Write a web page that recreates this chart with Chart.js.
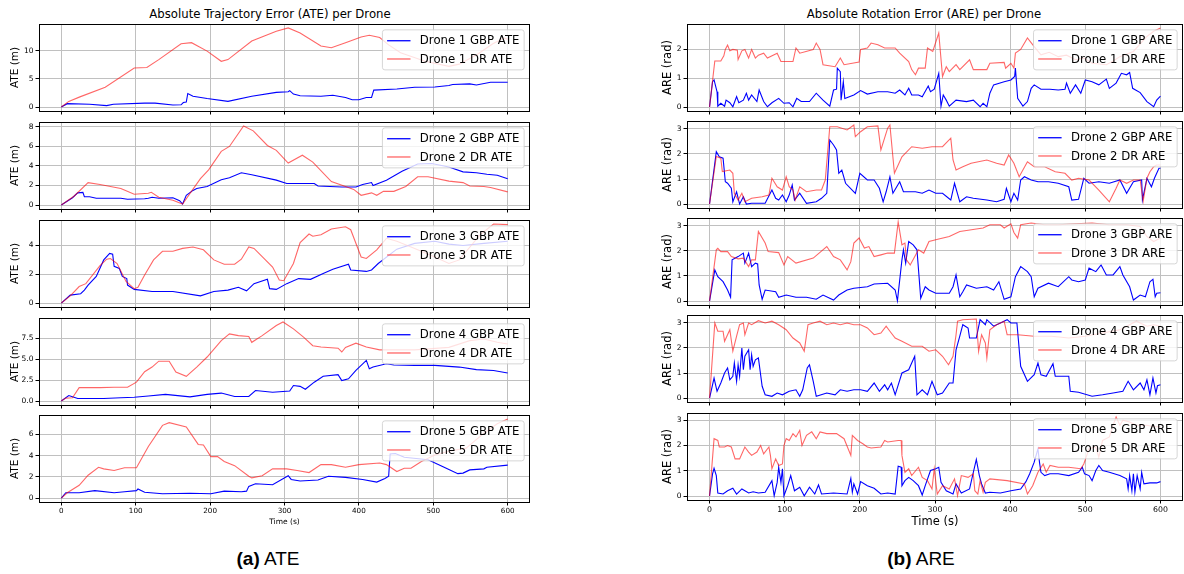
<!DOCTYPE html>
<html>
<head>
<meta charset="utf-8">
<script src="https://cdn.jsdelivr.net/npm/chart.js@4.4.1/dist/chart.umd.min.js"></script>
<style>
  body { margin: 0; background: #fff; }
  #wrap { position: relative; width: 1184px; height: 574px; overflow: hidden; }
  #wrap canvas { position: absolute; }
  .ttl { position: absolute; font: 11.7px "DejaVu Sans"; color: #000; white-space: nowrap; transform: translate(-50%, -50%); }
  .cap { position: absolute; font: 19px "Liberation Sans"; color: #000; white-space: nowrap; transform: translate(-50%, -50%); }
</style>
</head>
<body>
<div id="wrap">
  <div class="ttl" style="left:270px;top:14px">Absolute Trajectory Error (ATE) per Drone</div>
  <div class="ttl" style="left:924px;top:14px">Absolute Rotation Error (ARE) per Drone</div>
  <div class="cap" style="left:268px;top:559px"><b>(a)</b> ATE</div>
  <div class="cap" style="left:921px;top:559px"><b>(b)</b> ARE</div>
</div>
<script>
// tick values
const timeTicks = [0, 100, 200, 300, 400, 500, 600];
const ateTicks = [[0, 5, 10], [0, 2, 4, 6, 8], [0, 2, 4], [0, 2.5, 5, 7.5], [0, 2, 4, 6]];
const areTicks = [[0, 1, 2], [0, 1, 2, 3], [0, 1, 2, 3], [0, 1, 2, 3], [0, 1, 2, 3]];
const drones = ["Drone 1", "Drone 2", "Drone 3", "Drone 4", "Drone 5"];

// [time (s), error]
const ate1Gbp = [[0,0],[8,0.6],[38,0.5],[61,0.25],[70,0.5],[112,0.7],[126,0.7],[150,0.35],[161,0.4],[164,0.8],[168,0.9],[170,2.4],[177,1.9],[196,1.5],[224,1.0],[256,1.9],[289,2.6],[305,2.7],[307,2.9],[312,2.3],[321,2.0],[349,1.9],[365,2.1],[382,1.7],[391,1.3],[400,1.3],[410,1.7],[417,1.7],[420,3.0],[451,3.2],[475,3.5],[502,3.55],[521,3.8],[526,4.0],[549,4.1],[558,3.9],[577,4.4],[600,4.4]];
const ate1Dr = [[0,0],[10,1.0],[25,1.8],[59,3.5],[98,6.9],[115,7.0],[131,8.4],[161,11.2],[175,11.4],[196,9.9],[215,8.1],[224,8.4],[256,11.7],[289,13.4],[305,14.0],[321,13.1],[349,10.8],[363,10.5],[382,11.4],[403,12.4],[414,12.7],[428,12.3],[440,11.0],[456,9.6],[489,8.1],[521,7.2],[535,7.6],[560,9.4],[580,11.2],[595,12.2],[600,12.0]];
const ate2Gbp = [[0,0],[15,0.75],[22,1.25],[29,1.3],[31,0.85],[38,0.85],[47,0.7],[80,0.7],[89,0.6],[112,0.65],[117,0.7],[122,0.8],[131,0.7],[150,0.75],[159,0.45],[163,0.1],[168,1.0],[177,1.5],[182,1.7],[196,1.9],[215,2.6],[226,2.8],[242,3.3],[256,3.1],[289,2.55],[303,2.2],[327,2.2],[340,2.2],[345,1.95],[377,1.85],[396,1.85],[405,2.1],[417,2.3],[419,2.0],[437,2.55],[458,3.45],[479,4.2],[498,4.25],[521,3.9],[540,3.4],[558,3.3],[572,3.15],[586,3.05],[600,2.7]];
const ate2Dr = [[0,0],[17,0.9],[36,2.3],[52,2.1],[80,1.7],[98,1.1],[117,1.2],[121,1.3],[131,0.8],[150,0.5],[163,0.1],[173,1.2],[187,2.7],[198,3.6],[215,5.5],[226,6.0],[245,8.1],[258,7.6],[277,6.1],[289,5.6],[305,4.3],[324,5.1],[338,4.4],[363,2.4],[382,1.9],[393,1.6],[403,1.0],[417,1.25],[424,1.0],[433,1.4],[447,1.4],[463,1.9],[479,2.9],[493,2.9],[521,2.45],[540,2.3],[549,1.95],[568,1.9],[577,1.8],[600,1.35]];
const ate3Gbp = [[0,0],[12,0.55],[26,0.65],[31,0.9],[36,1.25],[47,1.85],[57,3.0],[65,3.45],[69,3.4],[71,2.55],[78,2.4],[82,1.85],[88,1.7],[89,1.25],[98,0.95],[122,0.8],[150,0.8],[187,0.5],[205,0.8],[224,0.9],[238,1.1],[249,0.85],[259,1.35],[277,1.65],[280,1.0],[289,0.95],[303,1.35],[319,1.7],[335,1.65],[352,2.05],[365,2.35],[386,2.7],[389,2.3],[410,2.2],[417,2.3],[426,2.75],[451,3.75],[475,4.15],[502,4.3],[521,4.1],[540,4.0],[568,4.15],[600,4.3]];
const ate3Dr = [[0,0],[12,0.5],[24,1.15],[33,1.35],[52,2.6],[61,3.05],[66,3.1],[75,2.75],[87,1.5],[98,1.0],[103,1.1],[112,1.95],[124,3.0],[136,3.6],[150,3.6],[163,3.8],[177,3.9],[191,3.7],[205,3.0],[219,2.7],[233,2.7],[242,3.05],[252,3.9],[259,3.8],[284,2.5],[293,1.6],[299,1.55],[312,2.75],[321,4.2],[333,4.8],[338,4.65],[349,4.75],[363,5.15],[382,5.3],[389,5.1],[403,3.2],[410,3.1],[424,3.7],[437,4.5],[451,4.3],[475,3.8],[502,3.2],[521,2.75],[535,3.0],[563,4.75],[581,5.5],[600,5.45]];
const ate4Gbp = [[0,0],[10,0.65],[17,0.45],[22,0.3],[57,0.3],[80,0.4],[98,0.45],[117,0.6],[140,0.8],[173,0.5],[196,0.8],[215,0.95],[233,0.55],[252,0.55],[261,1.25],[284,1.05],[307,1.2],[312,1.85],[321,1.75],[328,1.4],[340,2.25],[352,2.95],[372,3.15],[377,2.45],[386,2.65],[396,3.65],[410,4.85],[414,3.85],[419,4.05],[437,4.45],[447,4.3],[475,4.25],[502,4.25],[535,4.05],[558,3.75],[581,3.65],[600,3.35]];
const ate4Dr = [[0,0],[6,0.35],[15,0.4],[24,1.6],[52,1.6],[71,1.65],[89,1.65],[101,2.25],[112,3.5],[122,4.05],[131,4.75],[145,4.75],[154,3.45],[168,2.95],[182,4.05],[196,5.25],[215,7.2],[226,8.0],[238,7.8],[252,7.7],[256,7.0],[270,7.8],[289,9.0],[298,9.43],[312,8.6],[326,7.6],[338,6.6],[349,6.45],[372,6.3],[377,5.85],[382,6.4],[396,6.9],[410,6.45],[428,6.1],[475,6.1],[521,6.4],[549,7.2],[568,7.4],[586,7.0],[600,6.8]];
const ate5Gbp = [[0,0],[6,0.5],[24,0.5],[45,0.7],[71,0.5],[85,0.6],[101,0.7],[103,0.85],[112,0.55],[136,0.4],[173,0.45],[201,0.4],[219,0.65],[242,0.6],[249,0.65],[252,1.1],[261,1.35],[284,1.25],[305,2.1],[309,1.75],[321,1.6],[345,1.7],[359,2.05],[382,1.95],[405,1.75],[424,1.5],[435,1.85],[440,2.05],[442,4.15],[449,4.2],[461,3.85],[493,3.6],[516,2.85],[533,2.3],[540,2.35],[549,2.65],[568,2.75],[572,2.9],[600,3.1]];
const ate5Dr = [[0,0],[8,0.5],[24,1.2],[36,2.15],[50,2.9],[57,2.75],[71,2.6],[85,2.85],[101,2.85],[117,4.85],[136,6.85],[145,7.1],[168,6.7],[184,5.05],[191,5.0],[201,3.9],[210,3.9],[219,3.45],[233,3.05],[252,2.05],[256,1.9],[270,2.1],[284,2.75],[303,2.75],[317,2.6],[333,2.4],[349,3.15],[363,3.15],[382,2.9],[400,3.15],[428,3.3],[437,3.15],[451,2.5],[461,2.8],[470,2.8],[484,3.45],[502,4.05],[521,4.4],[544,4.7],[568,6.1],[586,7.0],[600,7.45]];

const are1Gbp = [[0,0],[4,0.88],[6,0.94],[10,0.53],[11,0.03],[15,0.13],[20,0.03],[22,0.24],[27,0.15],[31,0.01],[36,0.36],[39,0.15],[45,0.24],[49,0.48],[52,0.24],[56,0.42],[63,0.19],[66,0.59],[72,0.19],[77,0.01],[83,0.15],[92,0.3],[99,0.13],[106,0.15],[111,0.01],[116,0.3],[122,0.19],[133,0.19],[142,0.48],[151,0.24],[160,0.03],[165,0.59],[169,0.62],[170,1.35],[174,1.23],[175,0.24],[178,0.88],[180,0.3],[192,0.42],[201,0.57],[210,0.45],[224,0.53],[237,0.53],[247,0.48],[253,0.59],[260,0.42],[265,0.65],[269,0.42],[278,0.42],[283,0.36],[291,0.73],[294,0.53],[299,0.62],[305,1.17],[308,0.03],[311,0.42],[315,0.24],[319,0.03],[328,0.24],[342,0.19],[351,0.24],[360,0.01],[364,0.13],[369,0.01],[373,0.48],[378,0.77],[392,0.88],[401,0.94],[406,1.06],[407,1.35],[410,0.3],[417,0.03],[423,0.19],[428,0.65],[432,0.77],[441,0.62],[453,0.62],[464,0.59],[473,0.62],[475,0.83],[480,0.48],[487,0.77],[494,0.48],[500,0.94],[509,0.88],[518,0.77],[528,0.97],[532,0.65],[541,0.83],[548,1.17],[555,1.12],[559,1.2],[563,0.65],[573,0.5],[582,0.19],[591,0.01],[595,0.24],[600,0.38]];
const are1Dr = [[0,0],[7,1.6],[15,1.6],[19,1.78],[21,2.0],[24,2.15],[27,1.95],[31,2.0],[37,1.97],[38,1.65],[43,1.95],[47,2.0],[52,1.7],[56,2.0],[61,1.7],[65,1.8],[72,1.87],[77,1.7],[90,1.87],[95,1.58],[111,1.58],[115,2.05],[120,1.87],[138,2.0],[142,2.22],[147,2.0],[151,1.47],[167,1.4],[174,1.7],[179,1.47],[199,1.56],[201,2.0],[210,2.05],[215,2.22],[224,2.16],[233,2.05],[247,2.05],[253,1.87],[265,1.58],[269,1.3],[274,1.12],[278,1.35],[287,1.35],[290,2.05],[297,1.93],[305,2.57],[310,1.06],[315,1.4],[319,1.23],[328,1.47],[333,1.3],[346,1.64],[351,1.3],[369,1.3],[373,1.52],[392,1.55],[394,1.35],[401,1.52],[405,1.35],[407,1.87],[414,2.0],[423,2.4],[432,2.1],[441,1.81],[452,1.9],[464,1.75],[475,1.8],[487,1.64],[498,1.7],[509,1.52],[528,1.47],[537,1.6],[546,1.75],[564,1.93],[582,2.45],[591,2.63],[600,2.745]];
const are2Gbp = [[0,0],[9,2.09],[13,1.89],[18,1.83],[21,0.89],[24,0.83],[29,0.63],[31,0.09],[36,0.49],[40,0],[45,0.29],[49,0],[56,0.03],[74,0.03],[83,0.56],[88,0.23],[92,0.16],[97,0.36],[102,0.09],[106,0.36],[110,0.76],[113,0.16],[120,0.43],[129,0.03],[142,0.09],[149,0.23],[156,0.43],[160,2.56],[165,2.36],[169,2.16],[172,1.23],[176,1.36],[181,0.83],[194,0.43],[200,1.23],[210,0.96],[219,0.96],[226,0.63],[231,0.09],[235,0.49],[240,1.09],[244,0.43],[253,0.89],[258,0.49],[274,0.49],[283,0.43],[292,0.56],[301,0.43],[310,0.43],[321,0.16],[326,0.83],[333,0.09],[342,0.29],[351,0.23],[369,0.16],[382,0.09],[392,0.19],[395,0.63],[401,0.09],[405,0.43],[410,0.16],[414,0.96],[419,1.09],[428,0.96],[437,0.89],[451,0.89],[464,0.83],[478,0.69],[482,0.16],[491,0.19],[498,1.03],[505,0.83],[518,0.89],[532,0.83],[546,0.96],[555,0.43],[564,0.89],[575,0.96],[576,0.16],[582,1.03],[588,0.69],[592,1.03],[598,1.43],[600,1.43]];
const are2Dr = [[0,0],[9,1.9],[15,1.83],[17,1.3],[27,1.36],[31,1.23],[33,0.43],[38,0.16],[43,0.43],[47,0.09],[56,0.23],[70,0.29],[79,0.36],[83,1.03],[90,0.69],[97,0.56],[102,1.09],[106,0.69],[111,0.56],[114,0.16],[120,0.69],[129,0.49],[142,0.56],[149,0.56],[154,0.96],[160,3.09],[170,3.09],[183,2.96],[192,3.16],[194,2.69],[201,2.89],[210,3.09],[224,3.12],[228,2.16],[237,3.03],[240,3.16],[246,1.23],[256,1.89],[269,2.29],[283,2.23],[296,2.29],[310,2.29],[321,2.63],[324,1.76],[328,1.36],[337,1.49],[348,1.63],[369,1.76],[382,1.63],[392,1.56],[398,1.96],[405,1.63],[412,1.09],[423,1.69],[432,1.49],[446,1.49],[460,1.29],[473,1.23],[482,0.96],[491,1.03],[505,0.96],[518,0.56],[532,0.09],[541,0.63],[546,0.96],[555,0.83],[564,0.96],[573,0.96],[577,0.12],[582,1.03],[586,1.29],[591,1.49],[595,1.56],[600,1.56]];
const are3Gbp = [[0,0],[7,1.24],[11,0.97],[18,0.77],[24,0.44],[28,0.15],[30,1.64],[38,1.77],[45,1.91],[47,1.51],[52,1.91],[56,1.37],[61,1.51],[64,1.48],[66,0.64],[70,0.07],[74,0.44],[88,0.37],[92,0.15],[102,0.24],[115,0.15],[129,0.15],[142,0.07],[151,0.24],[165,0.04],[172,0.24],[183,0.44],[192,0.51],[210,0.57],[219,0.68],[237,0.71],[247,0.44],[250,0.01],[256,1.64],[258,2.04],[261,1.51],[265,2.37],[271,2.24],[276,2.04],[281,0.11],[287,0.57],[292,0.44],[301,0.31],[319,0.31],[324,0.57],[328,1.04],[333,0.17],[337,0.37],[342,0.64],[355,0.51],[369,0.57],[378,0.44],[385,0.77],[392,0.07],[401,0.17],[407,0.97],[414,1.37],[423,1.17],[428,0.97],[432,0.17],[437,0.51],[451,0.71],[464,0.57],[478,0.97],[482,0.84],[491,0.77],[500,0.84],[505,1.31],[514,1.17],[521,1.44],[528,1.04],[537,1.04],[546,1.37],[550,1.04],[559,0.57],[564,0.04],[573,0.24],[580,0.17],[586,0.77],[590,0.87],[593,0.17],[595,0.31],[600,0.33]];
const are3Dr = [[0,0],[9,2.04],[11,2.1],[15,1.97],[24,1.97],[29,1.77],[38,1.68],[45,1.71],[52,1.37],[56,1.64],[61,1.64],[65,2.77],[74,2.31],[78,1.97],[92,1.93],[99,1.44],[104,1.77],[115,1.51],[138,1.71],[156,2.17],[165,1.77],[174,1.64],[183,1.24],[188,1.57],[192,2.31],[199,2.51],[206,2.11],[212,2.17],[219,1.77],[228,1.84],[237,1.91],[246,1.91],[251,3.15],[256,2.24],[260,2.31],[262,1.64],[267,1.44],[278,2.04],[285,1.91],[292,2.37],[305,2.47],[319,2.57],[333,2.77],[342,2.81],[355,2.87],[364,2.91],[373,3.04],[387,3.04],[392,2.91],[401,3.08],[405,2.73],[410,2.51],[414,3.04],[428,3.11],[446,3.04],[464,3.04],[487,3.08],[509,3.11],[532,3.04],[555,3.04],[573,2.97],[582,2.57],[591,2.37],[600,2.51]];
const are4Gbp = [[0,0],[6,0.8],[10,0.27],[15,0.6],[20,1.0],[24,1.2],[27,0.73],[31,0.87],[33,1.4],[36,0.67],[38,1.33],[40,0.87],[43,2.0],[45,1.13],[47,1.67],[52,1.93],[54,1.13],[56,1.73],[58,1.27],[61,1.53],[65,1.6],[70,0.47],[74,0.13],[83,0.07],[90,0.2],[97,0.13],[106,0.27],[115,0.33],[120,0.07],[124,0.33],[130,1.2],[133,1.33],[138,0.67],[142,0.07],[156,0.2],[167,0.13],[174,0.33],[183,0.27],[192,0.33],[201,0.33],[210,0.27],[219,0.6],[226,0.27],[233,0.53],[237,0.33],[242,0.6],[247,0.13],[256,1.0],[265,1.13],[269,1.4],[273,1.67],[276,0.13],[283,0.33],[290,0.13],[296,0.67],[303,0.13],[310,0.2],[319,0.6],[324,0.6],[328,1.93],[333,2.47],[337,2.93],[344,2.8],[346,2.4],[355,2.4],[360,3.13],[367,2.93],[369,3.13],[378,2.87],[387,3.0],[396,3.13],[401,3.0],[409,3.0],[414,1.27],[423,0.67],[432,0.93],[437,1.4],[441,0.93],[448,0.87],[457,1.37],[460,0.87],[469,0.87],[478,0.87],[480,0.27],[491,0.23],[509,0.07],[523,0.13],[537,0.2],[550,0.27],[557,0.67],[564,0.33],[573,0.6],[578,0.33],[582,0.73],[586,0.13],[590,0.8],[594,0.2],[596,0.49],[600,0.53]];
const are4Dr = [[0,0],[7,3.0],[11,2.67],[18,2.67],[20,2.27],[27,2.73],[31,1.87],[36,2.47],[40,2.93],[45,3.0],[47,2.53],[52,3.0],[56,2.93],[65,3.09],[74,3.0],[83,3.07],[92,2.93],[102,2.73],[111,2.4],[120,2.2],[126,1.87],[131,2.93],[138,3.0],[147,3.07],[156,2.93],[165,3.0],[174,2.93],[183,3.0],[192,2.93],[201,2.93],[210,2.8],[219,2.53],[228,2.6],[235,2.87],[240,2.67],[247,2.4],[256,2.27],[269,2.07],[283,2.07],[292,1.87],[301,1.93],[310,1.67],[318,1.33],[324,1.67],[328,2.53],[330,3.07],[337,3.13],[355,3.16],[358,1.87],[362,2.53],[367,2.2],[369,1.6],[373,2.73],[382,2.93],[392,3.07],[396,2.53],[410,2.53],[432,2.47],[455,2.47],[478,2.4],[500,2.47],[523,2.6],[546,2.73],[568,3.07],[582,2.87],[591,2.93],[600,2.87]];
const are5Gbp = [[0,0],[4,0.88],[6,1.1],[9,0.81],[11,0.12],[18,0.08],[24,0.21],[31,0.31],[36,0.08],[43,0.28],[52,0.12],[58,0.17],[65,0.12],[74,0.15],[83,0.61],[86,0.01],[90,0.54],[92,1.14],[95,0.54],[97,1.08],[99,0.01],[104,0.41],[108,0.81],[113,0.21],[120,0.35],[126,0.01],[133,0.35],[140,0.08],[145,0.44],[149,0.08],[165,0.12],[183,0.08],[188,0.7],[190,0.15],[192,0.48],[197,0.08],[201,0.57],[210,0.41],[219,0.31],[228,0.08],[237,0.12],[247,0.08],[251,1.18],[255,1.14],[256,0.41],[260,0.61],[265,0.74],[271,0.61],[278,0.41],[283,0.04],[287,0.41],[294,1.01],[301,1.08],[305,1.14],[308,0.54],[315,0.21],[324,0.08],[328,0.48],[335,0.12],[346,0.28],[351,0.94],[355,1.45],[359,0.81],[362,0.48],[367,0.12],[373,0.15],[387,0.12],[401,0.21],[414,0.28],[421,0.57],[426,0.88],[432,1.34],[437,1.87],[439,1.34],[441,0.94],[446,0.81],[453,0.88],[464,0.88],[478,0.81],[491,0.94],[496,1.14],[499,0.88],[505,0.81],[509,0.61],[514,1.01],[518,1.21],[523,1.01],[532,0.94],[546,0.81],[555,0.68],[557,0.28],[559,0.81],[562,0.21],[564,0.88],[566,0.15],[569,0.81],[573,0.28],[575,0.94],[578,0.48],[586,0.52],[595,0.52],[600,0.57]];
const are5Dr = [[0,0],[6,2.27],[11,2.2],[13,1.94],[20,1.94],[24,2.0],[29,1.94],[34,1.47],[40,1.47],[47,1.94],[52,1.74],[56,1.61],[63,1.74],[68,2.0],[72,1.67],[79,1.94],[81,1.61],[83,1.08],[88,1.47],[92,1.21],[97,1.27],[99,2.0],[102,2.27],[106,2.2],[111,2.47],[115,2.34],[120,2.6],[123,2.0],[129,2.4],[136,2.54],[142,2.27],[147,2.54],[156,2.47],[169,2.47],[179,2.27],[188,1.61],[190,2.4],[197,2.2],[204,2.07],[210,1.94],[215,1.9],[228,1.94],[233,2.2],[237,2.14],[251,2.2],[255,2.2],[256,1.61],[260,0.94],[265,1.08],[269,0.81],[278,1.14],[283,0.74],[290,0.61],[296,0.28],[299,1.08],[303,0.08],[310,0.41],[319,0.28],[326,0.68],[330,0.01],[335,0.81],[344,0.74],[351,0.88],[353,0.21],[357,0.08],[360,0.61],[364,0.15],[367,0.54],[373,0.68],[396,0.61],[419,0.48],[423,0.08],[430,0.41],[437,0.94],[444,1.27],[448,0.94],[453,1.21],[464,1.14],[478,1.14],[494,1.08],[498,1.27],[505,1.87],[514,1.94],[518,1.54],[523,2.2],[532,2.34],[537,2.8],[541,3.13],[546,2.8],[550,3.0],[559,2.93],[568,2.8],[582,2.8],[591,2.74],[600,2.74]];

const ateGbp = [ate1Gbp, ate2Gbp, ate3Gbp, ate4Gbp, ate5Gbp];
const ateDr = [ate1Dr, ate2Dr, ate3Dr, ate4Dr, ate5Dr];
const areGbp = [are1Gbp, are2Gbp, are3Gbp, are4Gbp, are5Gbp];
const areDr = [are1Dr, are2Dr, are3Dr, are4Dr, are5Dr];

const GBP_COLOR = "#0000ff";
const DR_COLOR = "rgba(255,0,0,0.6)";
const LEG_FONT = 11.7;

// frame + in-axes legend (matplotlib style)
const axesDecor = {
  id: "axesDecor",
  afterDraw(chart) {
    const ctx = chart.ctx, a = chart.chartArea;
    ctx.save();
    ctx.strokeStyle = "#000";
    ctx.lineWidth = 1;
    ctx.strokeRect(a.left + 0.5, a.top + 0.5, a.right - a.left - 1, a.bottom - a.top);

    const F = LEG_FONT;
    ctx.font = F + 'px "DejaVu Sans"';
    const sets = chart.data.datasets;
    const tw = Math.max(...sets.map(d => ctx.measureText(d.label).width));
    const textH = 1.06 * F, rowH = textH + 0.5 * F;
    const bw = 0.4 * F + 2 * F + 0.8 * F + tw + 0.4 * F;
    const bh = 0.8 * F + 2 * textH + 0.5 * F;
    const bx = a.right - 0.5 * F - bw, by = a.top + 0.5 * F;
    ctx.beginPath();
    ctx.roundRect(bx, by, bw, bh, 2.5);
    ctx.fillStyle = "rgba(255,255,255,0.8)";
    ctx.fill();
    ctx.strokeStyle = "rgba(204,204,204,0.8)";
    ctx.stroke();
    sets.forEach((d, i) => {
      const cy = by + 0.4 * F + textH / 2 + i * rowH;
      ctx.beginPath();
      ctx.strokeStyle = d.borderColor;
      ctx.lineWidth = 1.3;
      ctx.moveTo(bx + 0.4 * F, cy);
      ctx.lineTo(bx + 2.4 * F, cy);
      ctx.stroke();
      ctx.fillStyle = "#000";
      ctx.textBaseline = "middle";
      ctx.fillText(d.label, bx + 3.2 * F, cy + 0.5);
    });
    ctx.restore();
  }
};

const wrap = document.getElementById("wrap");

function addPanel(p) {
  const padT = 8, padR = 4;
  const xh = p.bottom ? p.xh : 8;
  const cv = document.createElement("canvas");
  cv.width = p.yw + p.w + padR;
  cv.height = padT + p.h + xh;
  cv.style.left = (p.x - p.yw) + "px";
  cv.style.top = (p.y - padT) + "px";
  wrap.appendChild(cv);

  const ymax = Math.max(...p.series.flatMap(s => s.data.map(d => d[1])));
  const decimals = p.ticks.some(v => v % 1 !== 0);
  const gridOpts = { color: "#c0c0c0", lineWidth: 1, tickColor: "#000", tickLength: 3.5, tickWidth: 1 };

  new Chart(cv, {
    type: "line",
    data: {
      datasets: p.series.map(s => ({
        label: s.label,
        data: s.data.map(d => ({ x: d[0], y: d[1] })),
        borderColor: s.color,
        borderWidth: 1.1,
        pointRadius: 0,
        tension: 0,
        order: s.order
      }))
    },
    options: {
      responsive: false,
      animation: false,
      devicePixelRatio: 1,
      layout: { padding: { top: padT, right: padR, left: 0, bottom: 0 } },
      plugins: { legend: { display: false }, tooltip: { enabled: false } },
      scales: {
        x: {
          type: "linear",
          min: -30,
          max: 630,
          afterBuildTicks: s => { s.ticks = timeTicks.map(v => ({ value: v })); },
          afterFit: s => { s.height = xh; },
          grid: gridOpts,
          border: { display: false },
          ticks: { display: p.bottom, autoSkip: false, maxRotation: 0, padding: 1.5, color: "#000",
                   font: { family: "DejaVu Sans", size: p.xtSize } },
          title: { display: p.bottom, text: "Time (s)", color: "#000",
                   font: { family: "DejaVu Sans", size: p.xlSize }, padding: { top: 0, bottom: 0 } }
        },
        y: {
          min: -0.05 * ymax,
          max: 1.05 * ymax,
          afterBuildTicks: s => { s.ticks = p.ticks.map(v => ({ value: v })); },
          afterFit: s => { s.width = p.yw; },
          grid: gridOpts,
          border: { display: false },
          ticks: { autoSkip: false, padding: 2, color: "#000",
                   font: { family: "DejaVu Sans", size: 7.5 },
                   callback: v => decimals ? v.toFixed(1) : String(v) },
          title: { display: true, text: p.ylabel, color: "#000",
                   font: { family: "DejaVu Sans", size: p.ylSize }, padding: { top: p.ylPad, bottom: 0 } }
        }
      }
    },
    plugins: [axesDecor]
  });
}

const leftTops = [24, 122, 220, 318, 415];
const rightTops = [24, 121, 218, 315, 413];

for (let i = 0; i < 5; i++) {
  addPanel({
    x: 39, y: leftTops[i], w: 491, h: 87, yw: 39,
    bottom: i === 4, xh: 25, xtSize: 7.2, xlSize: 7.5,
    ylabel: "ATE (m)", ylSize: 10.5, ylPad: 8.7,
    ticks: ateTicks[i],
    series: [
      { label: drones[i] + " GBP ATE", data: ateGbp[i], color: GBP_COLOR, order: 1 },
      { label: drones[i] + " DR ATE", data: ateDr[i], color: DR_COLOR, order: 0 }
    ]
  });
  addPanel({
    x: 687, y: rightTops[i], w: 496, h: 87, yw: 40,
    bottom: i === 4, xh: 29, xtSize: 7.8, xlSize: 11.5,
    ylabel: "ARE (rad)", ylSize: 11.5, ylPad: 14.4,
    ticks: areTicks[i],
    series: [
      { label: drones[i] + " GBP ARE", data: areGbp[i], color: GBP_COLOR, order: 1 },
      { label: drones[i] + " DR ARE", data: areDr[i], color: DR_COLOR, order: 0 }
    ]
  });
}
</script>
</body>
</html>
